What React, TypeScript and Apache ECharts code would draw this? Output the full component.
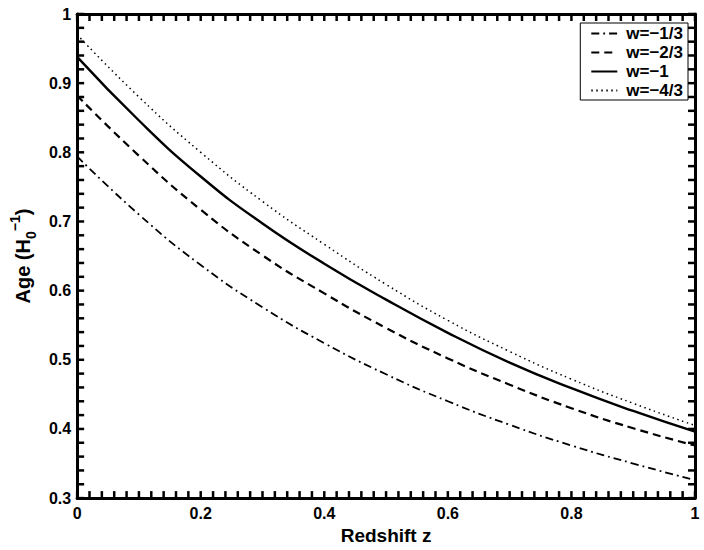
import React, { useEffect, useRef } from "react";
import * as echarts from "echarts";

// Redshift samples
const redshift = [0, 0.1, 0.2, 0.3, 0.4, 0.5, 0.6, 0.7, 0.8, 0.9, 1.0];

// Age in units of 1/H0
const ageW13 = [0.794, 0.71, 0.637, 0.576, 0.524, 0.479, 0.44, 0.406, 0.376, 0.35, 0.326];
const ageW23 = [0.882, 0.795, 0.717, 0.651, 0.596, 0.546, 0.502, 0.464, 0.43, 0.401, 0.376];
const ageW1 = [0.938, 0.846, 0.765, 0.697, 0.639, 0.587, 0.539, 0.496, 0.459, 0.426, 0.396];
const ageW43 = [0.97, 0.88, 0.8, 0.729, 0.667, 0.609, 0.557, 0.512, 0.472, 0.437, 0.405];

const seriesNames = ["w=−1/3", "w=−2/3", "w=−1", "w=−4/3"];

const xTicks = ["0", "0.2", "0.4", "0.6", "0.8", "1"];
const yTicks = ["0.3", "0.4", "0.5", "0.6", "0.7", "0.8", "0.9", "1"];

const FONT = "'Liberation Sans', Arial, Helvetica, sans-serif";

// axis ranges and tick steps
const X_MIN = 0;
const X_MAX = 1;
const X_STEP = 0.2;
const X_MINOR = 0.02;
const Y_MIN = 0.3;
const Y_MAX = 1;
const Y_STEP = 0.1;
const Y_MINOR = 0.02;

export default function App() {
  const ref = useRef<HTMLDivElement>(null);

  useEffect(() => {
    if (!ref.current) return;
    const chart = echarts.init(ref.current, undefined, { renderer: "svg" });

    const pair = (vals: number[]) => redshift.map((z, i) => [z, vals[i]]);

    const labelStyle = {
      color: "#000",
      fontFamily: FONT,
      fontWeight: "bold" as const,
      fontSize: 16,
    };

    const xLabel = (v: number) => xTicks[Math.round((v - X_MIN) / X_STEP)] ?? "";
    const yLabel = (v: number) => yTicks[Math.round((v - Y_MIN) / Y_STEP)] ?? "";

    const mkSeries = (name: string, vals: number[], lineStyle: any) => ({
      name,
      type: "line",
      data: pair(vals),
      smooth: true,
      showSymbol: false,
      symbol: "circle",
      symbolSize: 0,
      lineStyle: { color: "#000", ...lineStyle },
      itemStyle: { color: "#000", opacity: 0 },
      z: 3,
    });

    const nX = Math.round((X_MAX - X_MIN) / X_MINOR);
    const nY = Math.round((Y_MAX - Y_MIN) / Y_MINOR);

    const TICK = 7;
    const TW = 2.5;

    // inward ticks on all four sides, positioned through the axes' scales
    const tickSeries = {
      type: "custom",
      xAxisIndex: 0,
      yAxisIndex: 0,
      clip: false,
      z: 10,
      data: [[0.5, 0.6]],
      renderItem: (_p: any, api: any) => {
        const children: any[] = [];
        for (let i = 0; i <= nX; i++) {
          const v = X_MIN + i * X_MINOR;
          const b = api.coord([v, Y_MIN]);
          const t = api.coord([v, Y_MAX]);
          children.push({ type: "line", shape: { x1: b[0], y1: b[1], x2: b[0], y2: b[1] - TICK }, style: { stroke: "#000", lineWidth: TW } });
          children.push({ type: "line", shape: { x1: t[0], y1: t[1], x2: t[0], y2: t[1] + TICK }, style: { stroke: "#000", lineWidth: TW } });
        }
        for (let i = 0; i <= nY; i++) {
          const v = Y_MIN + i * Y_MINOR;
          const l = api.coord([X_MIN, v]);
          const r = api.coord([X_MAX, v]);
          children.push({ type: "line", shape: { x1: l[0], y1: l[1], x2: l[0] + TICK, y2: l[1] }, style: { stroke: "#000", lineWidth: TW } });
          children.push({ type: "line", shape: { x1: r[0], y1: r[1], x2: r[0] - TICK, y2: r[1] }, style: { stroke: "#000", lineWidth: TW } });
        }
        return { type: "group", children };
      },
    };

    const axisLine = { show: true, onZero: false, lineStyle: { color: "#000", width: 3 } };

    chart.setOption({
      animation: false,
      backgroundColor: "#fff",
      grid: { left: 75, right: 9, top: 14, bottom: 47 },
      legend: {
        orient: "vertical",
        right: 16,
        top: 23,
        data: seriesNames,
        itemWidth: 26,
        itemHeight: 14,
        itemGap: 2,
        padding: [2, 5, 1, 10],
        borderColor: "#000",
        borderWidth: 1,
        backgroundColor: "#fff",
        itemStyle: { opacity: 0 },
        z: 20,
        textStyle: {
          color: "#000",
          fontFamily: FONT,
          fontWeight: "bold",
          fontSize: 17,
          lineHeight: 17,
          padding: [0, 0, 0, 4],
        },
      },
      xAxis: [
        {
          type: "value",
          position: "bottom",
          min: X_MIN,
          max: X_MAX,
          interval: X_STEP,
          axisLine,
          axisTick: { show: false },
          splitLine: { show: false },
          axisLabel: { ...labelStyle, margin: 7, formatter: xLabel },
          name: "Redshift z",
          nameLocation: "middle",
          nameGap: 16,
          nameTextStyle: { color: "#000", fontFamily: FONT, fontWeight: "bold", fontSize: 19 },
        },
        {
          type: "value",
          position: "top",
          min: X_MIN,
          max: X_MAX,
          interval: X_STEP,
          axisLine,
          axisTick: { show: false },
          splitLine: { show: false },
          axisLabel: { show: false },
        },
      ],
      yAxis: [
        {
          type: "value",
          position: "left",
          min: Y_MIN,
          max: Y_MAX,
          interval: Y_STEP,
          axisLine,
          axisTick: { show: false },
          splitLine: { show: false },
          axisLabel: { ...labelStyle, margin: 6, formatter: yLabel },
          name: "{a|Age (H}{sub|0}{sup|−1}{a|)}",
          nameLocation: "middle",
          nameGap: 31,
          nameRotate: 90,
          nameTextStyle: {
            color: "#000",
            fontFamily: FONT,
            fontWeight: "bold",
            fontSize: 20,
            rich: {
              a: { color: "#000", fontFamily: FONT, fontWeight: "bold", fontSize: 20, lineHeight: 30 },
              sub: { color: "#000", fontFamily: FONT, fontWeight: "bold", fontSize: 14, lineHeight: 14, verticalAlign: "bottom" },
              sup: { color: "#000", fontFamily: FONT, fontWeight: "bold", fontSize: 14, lineHeight: 14, verticalAlign: "top" },
            },
          },
        },
        {
          type: "value",
          position: "right",
          min: Y_MIN,
          max: Y_MAX,
          interval: Y_STEP,
          axisLine,
          axisTick: { show: false },
          splitLine: { show: false },
          axisLabel: { show: false },
        },
      ],
      series: [
        mkSeries(seriesNames[0], ageW13, { width: 1.8, type: [8, 4, 1.8, 4] }),
        mkSeries(seriesNames[1], ageW23, { width: 2.2, type: [8, 5] }),
        mkSeries(seriesNames[2], ageW1, { width: 2.4, type: "solid" }),
        mkSeries(seriesNames[3], ageW43, { width: 1.5, type: [1.5, 3.5] }),
        tickSeries,
      ],
    });

    return () => chart.dispose();
  }, []);

  return (
    <div
      ref={ref}
      style={{ position: "fixed", left: 0, top: 0, width: 704, height: 550, background: "#fff" }}
    />
  );
}
